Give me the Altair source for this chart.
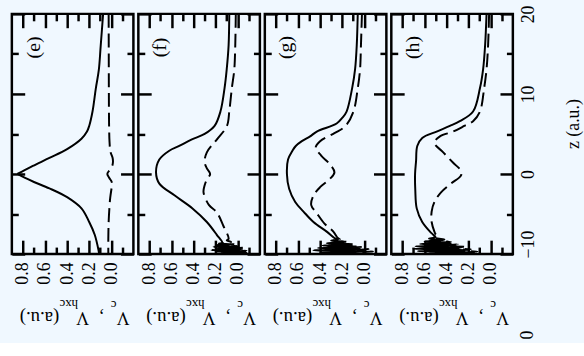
import altair as alt
import pandas as pd

SERIF = "Liberation Serif"
W, H = 123, 243

# ---- panel (e) ----
z_e_c = [20, 16, 13, 10.7, 7.8, 6, 5.3, 4.4, 3.1, 2, 1, 0.5, 0, -0.5, -1, -1.8, -2.9, -4.3, -6, -7.6, -9.5, -10]
v_e_c = [0.074, 0.096, 0.113, 0.14, 0.17, 0.20, 0.22, 0.27, 0.40, 0.56, 0.71, 0.78, 0.85, 0.78, 0.70, 0.56, 0.40, 0.27, 0.20, 0.15, 0.116, 0.11]
z_e_h = [20, 15, 10, 6, 4, 2.8, 2, 1.5, 1, 0.5, 0, -0.5, -1, -1.5, -2, -3, -4, -6, -8, -10]
v_e_h = [0.024, 0.023, 0.022, 0.02, 0.016, 0.008, -0.012, -0.015, -0.008, 0.015, 0.036, 0.018, -0.004, -0.006, 0.0, 0.01, 0.016, 0.024, 0.027, 0.027]

# ---- panel (f) ----
z_f_c = [20, 16.1, 13.1, 10.7, 7.8, 6.0, 5.0, 4.3, 3.5, 2.9, 1.8, 0.2, -1.2, -2.7, -4.3, -6.0, -7.6, -8.6,
         -8.7, -8.8, -8.9, -9.0, -9.1, -9.2, -9.3, -9.4, -9.5, -9.6, -9.7, -9.8, -9.9, -10.0]
v_f_c = [0.077, 0.083, 0.10, 0.12, 0.157, 0.21, 0.30, 0.42, 0.53, 0.62, 0.71, 0.74, 0.71, 0.57, 0.41, 0.28, 0.19, 0.14,
         0.17, 0.10, 0.20, 0.06, 0.22, 0.02, 0.18, -0.04, 0.24, 0.0, 0.20, -0.08, 0.15, 0.05]
z_f_h = [20, 16, 13, 10.7, 7.8, 6.0, 4.3, 2.7, 1.5, 0.7, 0, -0.7, -1.4, -2.3, -3.9, -4.8, -6.5, -8.1,
         -8.3, -8.5, -8.7, -8.8, -8.9, -9.0, -9.1, -9.2, -9.3, -9.4, -9.5, -9.6, -9.7, -9.8, -9.9, -10.0]
v_f_h = [0.018, 0.023, 0.032, 0.054, 0.077, 0.098, 0.19, 0.28, 0.30, 0.28, 0.25, 0.28, 0.30, 0.31, 0.26, 0.19, 0.13, 0.083,
         0.10, 0.06, 0.14, 0.03, 0.16, 0.0, 0.12, -0.05, 0.18, -0.02, 0.20, -0.08, 0.15, -0.10, 0.10, 0.02]

# ---- panel (g) ----
z_g_c = [20, 16.1, 13.1, 10.7, 7.8, 7.0, 6.3, 5.3, 4.7, 4.1, 3.5, 2.9, 1.8, 0, -1.85, -3.5, -4.7, -6.0, -7.2, -8.0,
         -8.2, -8.35, -8.5, -8.65, -8.8, -8.95, -9.1, -9.25, -9.4, -9.55, -9.7, -9.85, -10.0]
v_g_c = [0.059, 0.068, 0.083, 0.11, 0.16, 0.20, 0.25, 0.43, 0.49, 0.565, 0.62, 0.65, 0.69, 0.70, 0.68, 0.625, 0.55, 0.46, 0.34, 0.27,
         0.24, 0.30, 0.18, 0.34, 0.14, 0.38, 0.08, 0.42, 0.04, 0.46, 0.0, 0.40, 0.10]
z_g_h = [20, 16.1, 13.1, 10.7, 7.8, 6.0, 5.1, 4.1, 3.3, 2.3, 1.2, 0.2, -0.6, -1.65, -2.7, -3.9, -4.9, -6.2, -7.2, -8.0,
         -8.2, -8.35, -8.5, -8.65, -8.8, -8.95, -9.1, -9.25, -9.4, -9.55, -9.7, -9.85, -10.0]
v_g_h = [0.021, 0.03, 0.038, 0.059, 0.098, 0.17, 0.27, 0.40, 0.44, 0.39, 0.31, 0.27, 0.31, 0.40, 0.46, 0.48, 0.43, 0.36, 0.28, 0.24,
         0.22, 0.28, 0.15, 0.30, 0.08, 0.33, 0.02, 0.36, -0.04, 0.30, -0.08, 0.25, 0.0]

# ---- panel (h) ----
z_h_c = [20, 16.1, 13.1, 10.7, 7.8, 6.6, 6.0, 5.3, 4.5, 3.5, 1.6, 0, -2, -4.3, -6.0, -7.2, -7.6,
         -7.9, -8.1, -8.3, -8.45, -8.6, -8.75, -8.9, -9.05, -9.2, -9.35, -9.5, -9.65, -9.8, -9.9, -10.0]
v_h_c = [0.038, 0.051, 0.069, 0.098, 0.16, 0.28, 0.37, 0.49, 0.62, 0.665, 0.676, 0.685, 0.683, 0.67, 0.62, 0.55, 0.52,
         0.50, 0.56, 0.44, 0.60, 0.38, 0.64, 0.32, 0.68, 0.26, 0.70, 0.20, 0.66, 0.15, 0.55, 0.30]
z_h_h = [20, 16.1, 13.1, 10.7, 7.8, 6.6, 6.0, 5.3, 4.7, 3.9, 2.7, 1.4, 0.4, -0.2, -1.2, -2.3, -3.5, -4.7, -6.0, -7.2,
         -7.5, -7.8, -8.0, -8.2, -8.35, -8.5, -8.65, -8.8, -8.95, -9.1, -9.25, -9.4, -9.55, -9.7, -9.85, -10.0]
v_h_h = [0.015, 0.024, 0.038, 0.06, 0.098, 0.16, 0.24, 0.34, 0.46, 0.51, 0.43, 0.34, 0.27, 0.27, 0.36, 0.45, 0.51, 0.535, 0.535, 0.51,
         0.50, 0.48, 0.50, 0.42, 0.55, 0.36, 0.58, 0.30, 0.60, 0.24, 0.62, 0.18, 0.60, 0.12, 0.50, 0.20]

z_tick_values = [-10, -5, 0, 5, 10, 15, 20]
z_label_values = [-10, 0, 10, 20]
v_tick_values = [-0.1, 0.0, 0.1, 0.2, 0.3, 0.4, 0.5, 0.6, 0.7, 0.8]
v_label_values = [0.0, 0.2, 0.4, 0.6, 0.8]

# long ticks on every 10 in z and every 0.2 in v, short ones in between
z_tick_size = {"condition": {"test": "datum.value % 10 === 0", "value": 13}, "value": 6.5}
v_tick_size = {"condition": {"test": "round(datum.value * 10) % 2 === 0", "value": 14}, "value": 7}
# the lowest z label sits a little above its tick
z_label_shift = {"condition": {"test": "datum.value === -10", "value": -10}, "value": 0}


def inward_ticks(orient, offset, values, size):
    # an axis placed on the opposite edge so its ticks point into the plot
    return alt.Axis(orient=orient, offset=offset, values=values, labels=False,
                    domain=False, grid=False, title=None, ticks=True,
                    tickSize=size, tickWidth=2.5, tickColor="black")


def text_piece(txt, x, y, size, angle, align="left", baseline="alphabetic"):
    return alt.Chart(alt.Data(values=[{}])).mark_text(
        text=txt, angle=angle, align=align, baseline=baseline,
        font=SERIF, fontSize=size, color="black"
    ).encode(x=alt.value(x), y=alt.value(y))


def panel(letter, zc, vc, zh, vh, last=False, cusp=False):
    xs = alt.Scale(domain=[-0.2, 0.9], reverse=True, nice=False, zero=False)
    ys = alt.Scale(domain=[-10, 20], nice=False, zero=False)

    dc = pd.DataFrame({"z": zc, "v": vc})
    if cusp:
        # split the solid curve at its cusp so the tip stays sharp
        up = dc[dc.z >= 0].assign(part="up")
        lo = dc[dc.z <= 0].assign(part="lo")
        dc = pd.concat([up, lo], ignore_index=True)
    else:
        dc = dc.assign(part="all")
    dh = pd.DataFrame({"z": zh, "v": vh})

    def ghost(x_axis, y_axis):
        return alt.Chart(dh).mark_point(opacity=0).encode(
            x=alt.X("v:Q", scale=xs, axis=x_axis),
            y=alt.Y("z:Q", scale=ys, axis=y_axis))

    x_labels = alt.Axis(orient="bottom", values=v_label_values, format=".1f",
                        labelAngle=270, labelAlign="right", labelBaseline="middle",
                        labelPadding=8, labelFont=SERIF, labelFontSize=18,
                        labelColor="black", labelFlush=False, labelOverlap=False,
                        ticks=False, domain=False, grid=False, title=None)
    if last:
        y_labels = alt.Axis(orient="right", values=z_label_values,
                            labelAngle=270, labelAlign="center", labelBaseline="top",
                            labelPadding=7, labelFont=SERIF, labelFontSize=18,
                            labelColor="black", labelFlush=False, labelOverlap=False,
                            labelOffset=z_label_shift,
                            ticks=False, domain=False, grid=False,
                            title="z (a.u.)", titleAngle=270, titleFont=SERIF,
                            titleFontSize=18, titleFontWeight="normal", titleColor="black",
                            titleX=61, titleY=111, titleAlign="center", titleBaseline="middle")
    else:
        y_labels = None

    layers = [
        ghost(x_labels, inward_ticks("right", -W, z_tick_values, z_tick_size)),
        ghost(inward_ticks("bottom", -H, v_tick_values, v_tick_size),
              inward_ticks("left", -W, z_tick_values, z_tick_size)),
        ghost(inward_ticks("top", -H, v_tick_values, v_tick_size), y_labels),
        alt.Chart(dc).mark_line(color="black", strokeWidth=2, interpolate="catmull-rom", clip=True).encode(
            x=alt.X("v:Q", scale=xs, axis=None),
            y=alt.Y("z:Q", scale=ys, axis=None),
            detail="part:N",
            order=alt.Order("z:Q", sort="descending")),
        alt.Chart(dh).mark_line(color="black", strokeWidth=2, strokeDash=[14, 6],
                                interpolate="catmull-rom", clip=True).encode(
            x=alt.X("v:Q", scale=xs, axis=None),
            y=alt.Y("z:Q", scale=ys, axis=None),
            order=alt.Order("z:Q", sort="descending")),
        text_piece(f"({letter})", 22, 34, 20, 270, align="center", baseline="middle"),
        # upside-down axis title: V_c , V_hxc (a.u.)
        text_piece("V", 119, 302, 18, 180),
        text_piece("c", 106, 291, 13, 180),
        text_piece(",", 93, 302, 18, 180),
        text_piece("V", 78, 302, 18, 180),
        text_piece("hxc", 67, 290, 13, 180),
        text_piece("(a.u.)", 48, 302, 19, 180),
    ]
    if last:
        layers.append(text_piece("0", 138, 325, 18, 270, align="center", baseline="middle"))

    return alt.layer(*layers).resolve_axis(x="independent", y="independent").properties(width=W, height=H)


panels = [
    panel("e", z_e_c, v_e_c, z_e_h, v_e_h, cusp=True),
    panel("f", z_f_c, v_f_c, z_f_h, v_f_h),
    panel("g", z_g_c, v_g_c, z_g_h, v_g_h),
    panel("h", z_h_c, v_h_c, z_h_h, v_h_h, last=True),
]

chart = alt.hconcat(*panels, spacing=5, bounds="flush").properties(
    padding={"left": 9, "top": 1, "right": 0, "bottom": 0},
    background="#F0F8FF",
).configure_view(stroke="black", strokeWidth=2.5)

chart.save("out.html", embed_options={"renderer": "svg", "actions": False})
